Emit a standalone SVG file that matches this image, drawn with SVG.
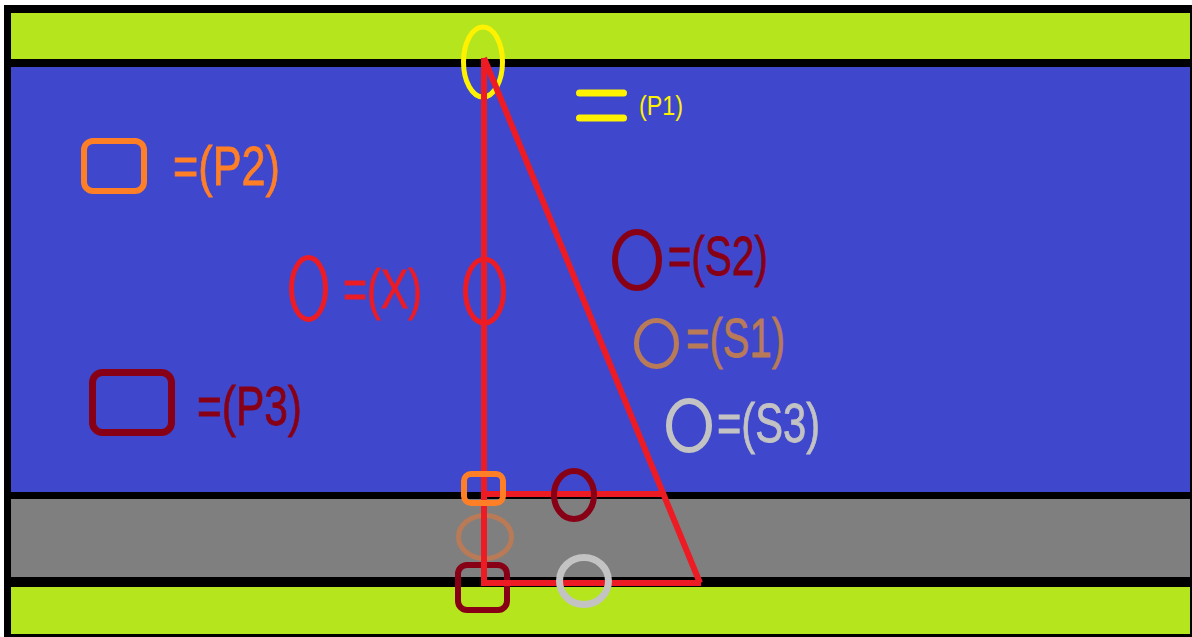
<svg xmlns="http://www.w3.org/2000/svg" width="1192" height="637" viewBox="0 0 1192 637">
<style>
.lbl{font-family:"Liberation Sans",Arial,sans-serif;font-size:56px;stroke-width:0.8px}
.line{stroke:#ed1c24;stroke-width:6;fill:none;stroke-linecap:butt}
</style>
<rect x="0" y="0" width="1192" height="637" fill="#ffffff"/>
<rect x="4" y="5" width="1188" height="632" fill="#000000"/>
<g id="bands">
<rect x="11" y="13" width="1179" height="46" fill="#b5e61d"/>
<rect x="11" y="67" width="1179" height="425" fill="#3f48cc"/>
<rect x="11" y="499" width="1179" height="78" fill="#7f7f7f"/>
<rect x="11" y="587" width="1179" height="47" fill="#b5e61d"/>
</g>
<g id="s1-marker"><ellipse cx="485" cy="537" rx="26.5" ry="21.5" fill="none" stroke="#b97a57" stroke-width="5"/></g>
<g id="p3-marker"><rect x="458" y="565" width="49" height="45" rx="9" fill="none" stroke="#880015" stroke-width="6"/></g>
<g id="p1-marker"><ellipse cx="483" cy="62" rx="19.5" ry="35" fill="none" stroke="#fff200" stroke-width="5"/></g>
<g id="connectors">
<line class="line" x1="484" y1="58" x2="484" y2="583"/>
<line class="line" x1="484" y1="58" x2="700" y2="583"/>
<line class="line" x1="481" y1="583" x2="701" y2="583"/>
<line class="line" x1="481" y1="494" x2="662" y2="494"/>
</g>
<g id="x-marker"><ellipse cx="484.5" cy="291" rx="19" ry="32" fill="none" stroke="#ed1c24" stroke-width="5"/></g>
<g id="p2-marker"><rect x="464" y="474" width="39" height="29" rx="7" fill="none" stroke="#ff7f27" stroke-width="6"/></g>
<g id="s2-marker"><ellipse cx="574" cy="495" rx="20" ry="24" fill="none" stroke="#880015" stroke-width="6"/></g>
<g id="s3-marker"><ellipse cx="584" cy="581" rx="24.5" ry="23.5" fill="none" stroke="#c3c3c3" stroke-width="7"/></g>

<g id="legend-p1">
<line x1="579.5" y1="93" x2="623.5" y2="93" stroke="#fff200" stroke-width="7" stroke-linecap="round"/>
<line x1="579.5" y1="118" x2="623.5" y2="118" stroke="#fff200" stroke-width="7" stroke-linecap="round"/>
<text x="639" y="115" font-family="Liberation Sans, Arial, sans-serif" font-size="28" fill="#fff200" textLength="44" lengthAdjust="spacingAndGlyphs">(P1)</text>
</g>
<g id="legend-p2">
<rect x="84" y="141" width="60" height="50" rx="9" fill="none" stroke="#ff7f27" stroke-width="6"/>
<text class="lbl" x="173" y="185" fill="#ff7f27" stroke="#ff7f27" textLength="107" lengthAdjust="spacingAndGlyphs">=(P2)</text>
</g>
<g id="legend-x">
<ellipse cx="308.5" cy="288.5" rx="17" ry="31" fill="none" stroke="#ed1c24" stroke-width="5"/>
<text class="lbl" x="343" y="308" fill="#ed1c24" stroke="#ed1c24" textLength="79" lengthAdjust="spacingAndGlyphs">=(X)</text>
</g>
<g id="legend-p3">
<rect x="92.5" y="372.5" width="79" height="60" rx="10" fill="none" stroke="#880015" stroke-width="7"/>
<text class="lbl" x="197" y="425" fill="#880015" stroke="#880015" textLength="105" lengthAdjust="spacingAndGlyphs">=(P3)</text>
</g>
<g id="legend-s2">
<ellipse cx="637" cy="260" rx="22" ry="28" fill="none" stroke="#880015" stroke-width="6"/>
<text class="lbl" x="668" y="275" fill="#880015" stroke="#880015" textLength="100" lengthAdjust="spacingAndGlyphs">=(S2)</text>
</g>
<g id="legend-s1">
<ellipse cx="656.5" cy="343.5" rx="20" ry="23" fill="none" stroke="#b97a57" stroke-width="5"/>
<text class="lbl" x="686" y="357" fill="#b97a57" stroke="#b97a57" textLength="99" lengthAdjust="spacingAndGlyphs">=(S1)</text>
</g>
<g id="legend-s3">
<ellipse cx="689" cy="425.5" rx="20" ry="24.5" fill="none" stroke="#c3c3c3" stroke-width="6"/>
<text class="lbl" x="717" y="442" fill="#c3c3c3" stroke="#c3c3c3" textLength="103" lengthAdjust="spacingAndGlyphs">=(S3)</text>
</g>
</svg>
